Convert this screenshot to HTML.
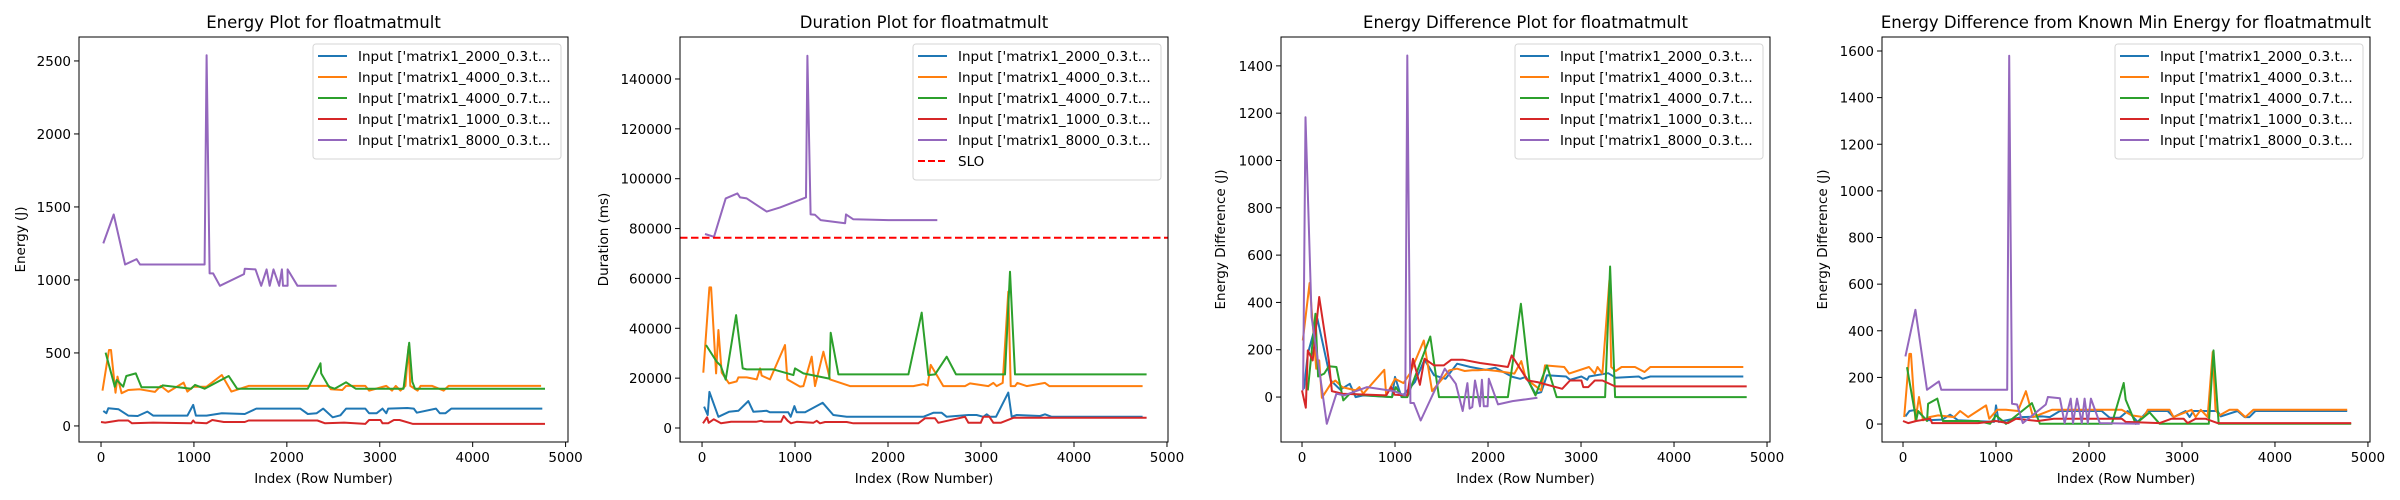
<!DOCTYPE html>
<html><head><meta charset="utf-8"><style>
html,body{margin:0;padding:0;background:#fff}
svg{display:block;font-family:"DejaVu Sans","Liberation Sans",sans-serif}
</style></head><body>
<svg id="fig" xmlns="http://www.w3.org/2000/svg" width="2400" height="500" viewBox="0 0 2400 500">
<rect width="2400" height="500" fill="#fff"/>
</svg>
<script>
// ---------- data ----------
const seriesLabels = ["Input ['matrix1_2000_0.3.t...","Input ['matrix1_4000_0.3.t...","Input ['matrix1_4000_0.7.t...","Input ['matrix1_1000_0.3.t...","Input ['matrix1_8000_0.3.t..."];
const seriesColors = ["#1f77b4","#ff7f0e","#2ca02c","#d62728","#9467bd"];
const xTicks = [0,1000,2000,3000,4000,5000];

// Panel 1: Energy
const p1Ticks = [0,500,1000,1500,2000,2500];
const p1BlueX=[25,58,78,189,292,395,498,560,930,992,1021,1136,1300,1547,1671,2144,2226,2321,2391,2494,2576,2638,2844,2885,2967,3029,3070,3091,3296,3366,3399,3605,3646,3708,3770,4749];
const p1BlueY=[103,87,121,114,71,68,98,71,71,144,71,71,87,82,119,119,82,87,119,59,73,119,119,87,87,119,87,119,123,119,91,119,87,87,119,119];
const p1OrangeX=[16,86,107,156,177,222,292,416,580,642,724,889,930,992,1136,1300,1403,1588,2453,2473,2597,2638,2844,2885,3070,3132,3173,3222,3276,3309,3329,3407,3440,3564,3687,3741,4737];
const p1OrangeY=[242,520,520,228,338,224,246,251,233,274,233,297,235,269,269,349,235,274,274,251,246,274,274,242,274,242,274,242,274,543,274,242,274,274,242,274,274];
const p1GreenX=[49,148,169,239,272,374,436,642,663,971,1012,1115,1374,1465,2226,2362,2370,2453,2514,2638,2741,3255,3317,3350,3379,4778];
const p1GreenY=[502,269,315,269,342,360,265,265,278,255,281,255,342,255,255,429,360,269,255,299,255,255,570,303,255,255];
const p1RedX=[0,45,189,292,333,560,971,992,1012,1136,1198,1321,1547,1588,2329,2412,2617,2844,2885,3008,3029,3091,3152,3214,3358,4778];
const p1RedY=[27,23,37,37,18,23,18,37,23,18,41,27,27,37,37,18,23,14,41,41,18,18,41,41,14,14];
const p1PurpleX=[25,136,259,383,420,1115,1136,1169,1206,1280,1539,1547,1663,1724,1782,1815,1856,1918,1947,1959,2008,2008,2115,2535];
const p1PurpleY=[1250,1448,1106,1143,1106,1106,2539,1045,1045,960,1040,1077,1072,960,1072,960,1072,960,1072,960,960,1072,960,960];

// Panel 2: Duration
const p2Ticks = [0,20000,40000,60000,80000,100000,120000,140000];
const sloValue = 76300;
const p2BlueX=[22,61,79,176,290,391,498,552,695,731,928,953,993,1018,1108,1298,1412,1556,2380,2487,2577,2631,2864,2953,3025,3061,3097,3161,3294,3330,3384,3634,3688,3760,4738];
const p2BlueY=[8600,5200,14500,4500,6500,6900,10800,6500,6900,6300,6300,4500,8800,6300,6300,10100,5200,4500,4500,6100,6100,4500,5200,5200,4500,5500,4500,4500,14200,4500,5200,4800,5500,4500,4500];
const p2OrangeX=[14,79,97,151,176,211,290,373,391,480,588,624,642,731,892,917,1054,1090,1179,1215,1305,1376,1591,2272,2380,2426,2459,2595,2828,2882,3079,3133,3168,3233,3294,3319,3366,3391,3491,3688,3735,4738];
const p2OrangeY=[22200,56400,56400,21900,39300,22200,17900,18700,20300,20300,19500,23900,21000,19500,33300,19500,16600,16800,28600,16800,30600,19500,16800,16800,17600,17000,25300,16800,16800,17900,16800,18100,16800,18100,54700,16800,16800,18100,16800,18100,16800,16800];
const p2GreenX=[43,158,201,254,366,437,480,767,982,1000,1090,1369,1384,1466,2219,2362,2380,2434,2505,2631,2731,3258,3312,3366,4781];
const p2GreenY=[33300,26600,25000,19400,45300,23900,23500,23500,21200,23900,21900,19800,38200,21500,21500,46300,40000,21200,21500,28600,21500,21500,62700,21500,21500];
const p2RedX=[10,54,72,125,204,312,581,635,670,849,878,921,957,1018,1197,1233,1269,1323,1556,1627,2326,2398,2505,2541,2828,2864,2997,3025,3090,3133,3212,3348,4781];
const p2RedY=[1900,4300,2100,3500,1900,2500,2500,2900,2500,2500,4800,2900,1900,2500,2100,2900,1900,2400,2400,1900,1900,3900,3900,2100,4500,2100,2100,4500,4500,2100,2100,4100,4100];
const p2PurpleX=[32,129,254,380,409,480,695,839,1118,1133,1168,1215,1276,1538,1548,1627,2004,2530];
const p2PurpleY=[77800,76700,92100,94100,92500,92100,86800,88500,92500,149300,85700,85500,83400,82100,85700,83700,83400,83400];

// Panel 3: Energy Difference
const p3Ticks = [0,200,400,600,800,1000,1200,1400];
const p3BlueX=[21,62,165,309,412,514,576,658,967,1000,1070,1214,1317,1420,1543,1667,1811,1975,2078,2263,2346,2407,2510,2572,2634,2840,2881,3004,3066,3086,3292,3374,3621,3662,3745,4745];
const p3BlueY=[35,183,331,70,31,56,0,7,0,85,0,63,158,92,77,141,127,115,124,85,77,85,14,21,92,87,73,87,73,87,101,82,87,77,87,87];
const p3OrangeX=[8,82,152,185,214,309,358,432,576,617,658,885,905,1000,1091,1160,1309,1399,1584,1667,1749,1831,1893,1975,2099,2284,2358,2407,2572,2613,2819,2872,3086,3148,3177,3230,3305,3325,3374,3436,3580,3683,3745,4745];
const p3OrangeY=[239,482,120,155,-3,56,70,42,28,42,14,115,7,77,59,99,239,25,113,120,110,113,113,115,110,99,152,77,28,134,127,99,127,99,127,99,493,127,110,127,127,106,127,127];
const p3GreenX=[62,144,173,239,288,370,444,514,700,967,1008,1078,1132,1379,1473,2214,2354,2449,2510,2634,2737,3259,3313,3366,4782];
const p3GreenY=[28,352,87,99,130,127,-14,14,7,0,42,0,0,256,0,0,394,56,7,134,0,0,552,0,0];
const p3RedX=[0,41,62,115,185,288,321,432,905,959,996,1132,1193,1267,1317,1420,1523,1605,1728,1914,2099,2214,2255,2428,2531,2798,2881,3004,3025,3078,3148,3230,3366,4782];
const p3RedY=[28,-45,197,155,423,155,25,14,7,42,10,7,162,52,162,134,134,158,158,144,134,127,176,70,63,35,70,70,42,42,70,70,45,45];
const p3PurpleX=[12,37,103,206,267,370,453,700,988,1111,1132,1165,1202,1276,1535,1654,1728,1778,1802,1831,1860,1914,1934,1955,1996,2008,2107,2263,2531];
const p3PurpleY=[28,1183,338,56,-113,14,7,42,25,7,1444,-25,-25,-99,120,56,-59,59,-49,-42,70,-39,73,-39,-39,77,-31,-17,-3];

// Panel 4: Energy Difference from Known Min
const p4Ticks = [0,200,400,600,800,1000,1200,1400,1600];
const p4BlueX=[26,69,142,258,421,506,592,979,1000,1030,1279,1494,1579,1687,2137,2223,2330,2416,2524,2631,2846,2910,3039,3082,3124,3382,3416,3597,3674,3725,3790,4777];
const p4BlueY=[33,56,61,16,19,40,16,9,80,9,30,33,30,56,56,27,27,56,9,56,56,30,56,30,56,56,33,56,30,30,56,56];
const p4OrangeX=[13,69,86,133,172,215,283,378,549,614,700,893,927,1013,1107,1236,1322,1399,1601,2352,2459,2588,2631,2867,2910,3103,3146,3202,3275,3330,3361,3403,3511,3597,3682,3768,4777];
const p4OrangeY=[30,301,301,16,116,16,30,37,30,56,30,80,23,61,61,56,141,30,61,61,37,30,61,61,30,61,30,61,30,309,61,37,61,61,30,61,61];
const p4GreenX=[43,142,163,258,270,369,429,807,936,1000,1107,1386,1472,2245,2373,2395,2502,2652,2760,3288,3339,3395,4820];
const p4GreenY=[244,16,56,13,87,109,13,13,1,37,1,90,1,1,176,104,1,50,1,1,316,1,1];
const p4RedX=[0,56,142,292,313,807,1000,1129,1215,1451,1622,2352,2395,2760,2888,3017,3060,3146,3253,3382,4820];
const p4RedY=[13,4,13,23,4,4,13,4,23,13,23,23,9,4,23,23,4,23,23,4,4];
const p4PurpleX=[26,133,258,386,412,1120,1142,1172,1227,1288,1536,1558,1687,1738,1803,1828,1871,1923,1953,1987,2021,2116,2545];
const p4PurpleY=[290,490,147,183,147,147,1580,87,84,4,84,116,111,4,109,4,109,4,109,4,109,4,1];

// ---------- layout ----------
const NS="http://www.w3.org/2000/svg";
const svg=document.getElementById('fig');
function el(tag,attrs,parent){const e=document.createElementNS(NS,tag);for(const k in attrs)e.setAttribute(k,attrs[k]);(parent||svg).appendChild(e);return e;}
function fmt(v){return String(v);}

const panels=[
 {key:'energy',title:'Energy Plot for floatmatmult',ylabel:'Energy (J)',L:79,R:568,x0:-237,x1:5026,y0:-110,y1:2664,ylabX:21,yticks:p1Ticks,legW:248,
  xs:[p1BlueX,p1OrangeX,p1GreenX,p1RedX,p1PurpleX],ys:[p1BlueY,p1OrangeY,p1GreenY,p1RedY,p1PurpleY]},
 {key:'duration',title:'Duration Plot for floatmatmult',ylabel:'Duration (ms)',L:680,R:1168,x0:-237,x1:5011,y0:-5616,y1:156840,ylabX:604,yticks:p2Ticks,legW:248,slo:true,
  xs:[p2BlueX,p2OrangeX,p2GreenX,p2RedX,p2PurpleX],ys:[p2BlueY,p2OrangeY,p2GreenY,p2RedY,p2PurpleY]},
 {key:'energy-diff',title:'Energy Difference Plot for floatmatmult',ylabel:'Energy Difference (J)',L:1281,R:1770,x0:-226,x1:5032,y0:-190,y1:1522,ylabX:1221,yticks:p3Ticks,legW:248,
  xs:[p3BlueX,p3OrangeX,p3GreenX,p3RedX,p3PurpleX],ys:[p3BlueY,p3OrangeY,p3GreenY,p3RedY,p3PurpleY]},
 {key:'energy-min-diff',title:'Energy Difference from Known Min Energy for floatmatmult',ylabel:'Energy Difference (J)',L:1882,R:2370,x0:-226,x1:5022,y0:-77,y1:1660,ylabX:1823,yticks:p4Ticks,legW:248,
  xs:[p4BlueX,p4OrangeX,p4GreenX,p4RedX,p4PurpleX],ys:[p4BlueY,p4OrangeY,p4GreenY,p4RedY,p4PurpleY]}
];
const T=37,B=442;

panels.forEach(p=>{
  const sx=v=>p.L+(v-p.x0)/(p.x1-p.x0)*(p.R-p.L);
  const sy=v=>B-(v-p.y0)/(p.y1-p.y0)*(B-T);
  const g=el('g',{});
  
  
  const clipId='clip-'+p.key;
  const cp=el('clipPath',{id:clipId},g);
  el('rect',{x:p.L,y:T,width:p.R-p.L,height:B-T},cp);
  const t=el('text',{x:(p.L+p.R)/2,y:28,'text-anchor':'middle','font-size':'16.5',fill:'#000'},g);
  t.textContent=p.title;
  
  
  xTicks.forEach(v=>{
    const x=sx(v);
    el('line',{x1:x,x2:x,y1:B,y2:B+5,stroke:'#000','stroke-width':1},g);
    const tl=el('text',{x:x,y:462,'text-anchor':'middle','font-size':'13.5',fill:'#000'},g);
    tl.textContent=fmt(v);
    
    
  });
  p.yticks.forEach(v=>{
    const y=sy(v);
    el('line',{x1:p.L-5,x2:p.L,y1:y,y2:y,stroke:'#000','stroke-width':1},g);
    const tl=el('text',{x:p.L-8,y:y+5,'text-anchor':'end','font-size':'13.5',fill:'#000'},g);
    tl.textContent=fmt(v);
    
    
  });
  const xl=el('text',{x:(p.L+p.R)/2,y:483,'text-anchor':'middle','font-size':'13.5',fill:'#000'},g);
  xl.textContent='Index (Row Number)';
  
  
  const yl=el('text',{x:p.ylabX,y:(T+B)/2,'text-anchor':'middle','font-size':'13.5',fill:'#000',transform:`rotate(-90 ${p.ylabX} ${(T+B)/2})`,'dominant-baseline':'central'},g);
  yl.textContent=p.ylabel;
  
  
  const sg=el('g',{'clip-path':`url(#${clipId})`},g);
  for(let s=0;s<5;s++){
    const d=p.xs[s].map((v,i)=>(i?'L':'M')+sx(v).toFixed(1)+' '+sy(p.ys[s][i]).toFixed(1)).join(' ');
    const path=el('path',{d:d,fill:'none',stroke:seriesColors[s],'stroke-width':2,'stroke-linejoin':'round'},sg);
    
    
  }
  if(p.slo){
    const ln=el('line',{x1:p.L,x2:p.R,y1:sy(sloValue),y2:sy(sloValue),stroke:'#ff0000','stroke-width':2,'stroke-dasharray':'7.5 3.5'},sg);
    
    
  }
  el('rect',{x:p.L,y:T,width:p.R-p.L,height:B-T,fill:'none',stroke:'#000','stroke-width':1},g);
  const n=p.slo?6:5;
  const lx=p.R-7-p.legW, ly=44, lh=10+n*21;
  const lg=el('g',{},g);
  
  
  el('rect',{x:lx,y:ly,width:p.legW,height:lh,rx:3,fill:'#fff','fill-opacity':0.8,stroke:'#d6d6d6','stroke-width':1},lg);
  for(let i=0;i<n;i++){
    const yy=ly+12+i*21;
    const isSlo=i===5;
    const e=el('g',{},lg);
    
    
    el('line',{x1:lx+5,x2:lx+34,y1:yy,y2:yy,stroke:isSlo?'#ff0000':seriesColors[i],'stroke-width':2,'stroke-dasharray':isSlo?'7 3':'none'},e);
    const tx=el('text',{x:lx+45,y:yy+5,'font-size':'13.5',fill:'#000'},e);
    tx.textContent=isSlo?'SLO':seriesLabels[i];
  }
});
</script>
</body></html>
